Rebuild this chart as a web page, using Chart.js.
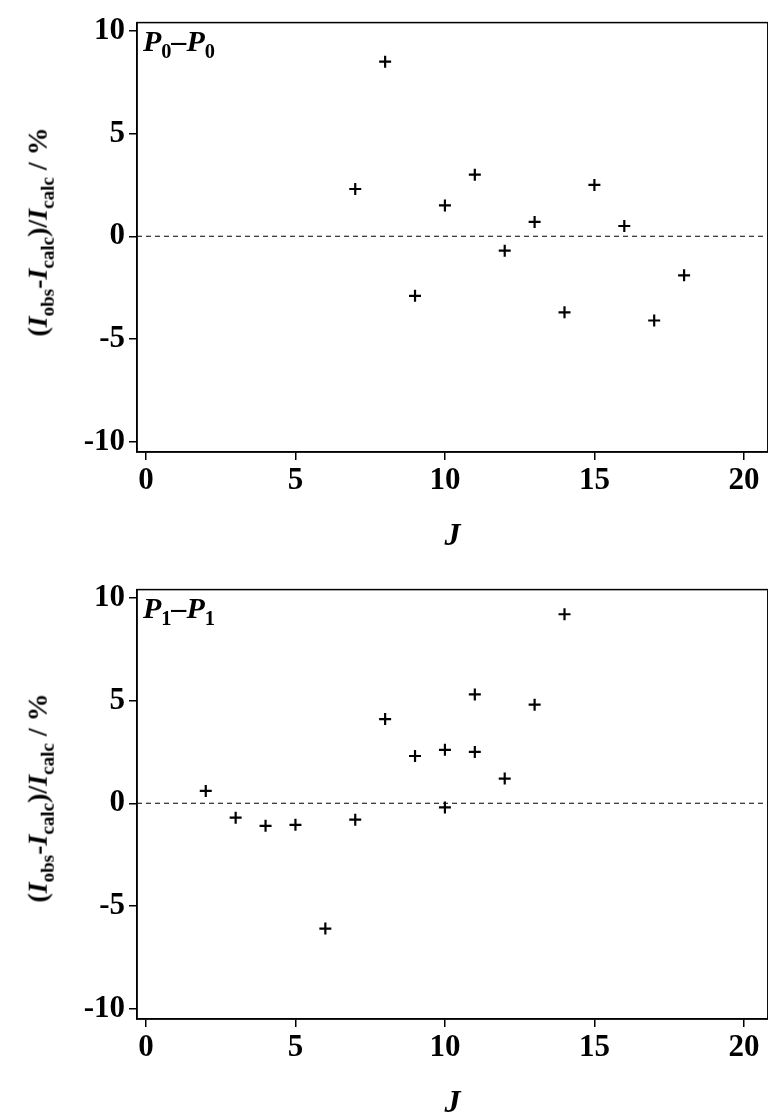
<!DOCTYPE html>
<html>
<head>
<meta charset="utf-8">
<script src="https://cdn.jsdelivr.net/npm/chart.js@4.4.1/dist/chart.umd.min.js"></script>
<style>
  body { margin: 0; background: #fff; width: 768px; height: 1120px; position: relative; overflow: hidden; }
  .panel { position: absolute; left: 0; width: 776px; height: 560px; }
  .ytitle { position: absolute; left: 40px; font: bold 28px "Liberation Serif", serif; white-space: nowrap;
            transform: translate(-50%, -50%) rotate(-90deg); }
  .lbl { position: absolute; left: 143px; font: bold italic 30px "Liberation Serif", serif; }
  sub { font-size: 0.68em; font-style: normal; }
  .ytitle i { font-style: italic; }
</style>
</head>
<body>
<div class="panel" style="top:0"><canvas id="c1"></canvas></div>
<div class="panel" style="top:567px"><canvas id="c2"></canvas></div>
<div class="ytitle" style="top:232px">(<i>I</i><sub>obs</sub>-<i>I</i><sub>calc</sub>)/<i>I</i><sub>calc</sub> / %</div>
<div class="ytitle" style="top:798px">(<i>I</i><sub>obs</sub>-<i>I</i><sub>calc</sub>)/<i>I</i><sub>calc</sub> / %</div>
<div class="lbl" style="top:24px">P<sub>0</sub>–P<sub>0</sub></div>
<div class="lbl" style="top:591px">P<sub>1</sub>–P<sub>1</sub></div>
<script>
const xTicks = [0, 5, 10, 15, 20];
const yTicks = [-10, -5, 0, 5, 10];

const p0J = [7, 8, 9, 10, 11, 12, 13, 14, 15, 16, 17, 18];
const p0Dev = [2.3, 8.5, -2.9, 1.5, 3.0, -0.7, 0.7, -3.7, 2.5, 0.5, -4.1, -1.9];

const p1J = [2, 3, 4, 5, 6, 7, 8, 9, 10, 10, 11, 11, 12, 13, 14];
const p1Dev = [0.6, -0.7, -1.1, -1.05, -6.1, -0.8, 4.1, 2.3, 2.6, -0.2, 5.3, 2.5, 1.2, 4.8, 9.2];

const boxAndZero = {
    id: 'boxAndZero',
    afterDatasetsDraw(chart) {
        const { ctx, chartArea: a, scales } = chart;
        ctx.save();
        ctx.strokeStyle = '#000';
        ctx.lineWidth = 1.5;
        ctx.strokeRect(a.left, a.top, a.right - a.left, a.bottom - a.top);
        const y0 = scales.y.getPixelForValue(0);
        ctx.setLineDash([5, 4]);
        ctx.lineWidth = 1.2;
        ctx.beginPath();
        ctx.moveTo(a.left, y0);
        ctx.lineTo(a.right, y0);
        ctx.stroke();
        ctx.restore();
    }
};

function makeChart(id, xs, ys) {
    const pts = xs.map((x, i) => ({ x: x, y: ys[i] }));
    const tickFont = { family: '"Liberation Serif", serif', size: 31, weight: 'bold' };
    new Chart(document.getElementById(id), {
        type: 'scatter',
        data: { datasets: [{ data: pts, pointStyle: 'cross', radius: 6, borderWidth: 2.2,
                             borderColor: '#000', backgroundColor: '#000' }] },
        options: {
            responsive: false,
            animation: false,
            devicePixelRatio: 1,
            layout: { padding: { top: 14, right: 0, left: 0, bottom: 0 } },
            plugins: { legend: { display: false }, tooltip: { enabled: false } },
            scales: {
                x: {
                    min: -0.3, max: 20.8,
                    afterBuildTicks: s => { s.ticks = xTicks.map(v => ({ value: v })); },
                    afterFit: s => { s.height = 108; },
                    grid: { drawOnChartArea: false, tickLength: 8, color: '#000', lineWidth: 1.5 },
                    border: { color: '#000', width: 1.5 },
                    ticks: { color: '#000', font: tickFont, padding: 2, maxRotation: 0 },
                    title: { display: true, text: 'J', color: '#000', padding: { top: -6 },
                             font: { family: '"Liberation Serif", serif', size: 32, weight: 'bold', style: 'italic' } }
                },
                y: {
                    min: -10.5, max: 10.4,
                    afterBuildTicks: s => { s.ticks = yTicks.map(v => ({ value: v })); },
                    afterFit: s => { s.width = 137; },
                    grid: { drawOnChartArea: false, tickLength: 8, color: '#000', lineWidth: 1.5 },
                    border: { color: '#000', width: 1.5 },
                    ticks: { color: '#000', font: tickFont, padding: 4 }
                }
            }
        },
        plugins: [boxAndZero]
    });
}

document.getElementById('c1').width = 776; document.getElementById('c1').height = 560;
document.getElementById('c2').width = 776; document.getElementById('c2').height = 560;
makeChart('c1', p0J, p0Dev);
makeChart('c2', p1J, p1Dev);
</script>
</body>
</html>
